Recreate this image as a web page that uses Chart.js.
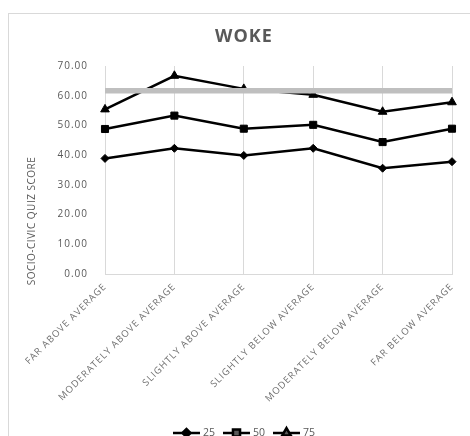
<!DOCTYPE html>
<html>
<head>
<meta charset="utf-8">
<script src="https://cdn.jsdelivr.net/npm/chart.js@4.4.0/dist/chart.umd.min.js"></script>
<style>
  html, body { margin: 0; padding: 0; background: #fff; overflow: hidden; }
  #frame { position: absolute; left: 8px; top: 13px; width: 470px; height: 430px; border: 1px solid #d9d9d9; }
  #frame canvas { display: block; }
</style>
</head>
<body>
<div id="frame"><canvas id="wokeChart" width="470" height="430"></canvas></div>
<script>
const categories = [
  "FAR ABOVE AVERAGE",
  "MODERATELY ABOVE AVERAGE",
  "SLIGHTLY ABOVE AVERAGE",
  "SLIGHTLY BELOW AVERAGE",
  "MODERATELY BELOW AVERAGE",
  "FAR BELOW AVERAGE"
];
const seriesNames = ["25", "50", "75"];
const score25 = [38.9, 42.3, 39.9, 42.3, 35.6, 37.8];
const score50 = [48.8, 53.3, 48.9, 50.2, 44.4, 48.9];
const score75 = [55.4, 66.7, 62.3, 60.3, 54.6, 57.8];
const overallMean = [61.7, 61.7, 61.7, 61.7, 61.7, 61.7];
const yMin = 0, yMax = 70, yStep = 10;

const GRAY_TEXT = "#595959";
const GRID = "#d9d9d9";

function scoreLine(label, data, style, radius) {
  return {
    label: label,
    data: data,
    borderColor: "#000",
    backgroundColor: "#000",
    borderWidth: 2.5,
    pointStyle: style,
    pointRadius: radius,
    pointBorderWidth: 1,
    tension: 0,
    order: 1
  };
}

// spaced-out lettering like the office chart style
const spacing = {
  id: "spacing",
  beforeUpdate(chart) { chart.ctx.letterSpacing = "1px"; },
  beforeDraw(chart) { chart.ctx.letterSpacing = "1px"; }
};

// rotated y axis caption, sitting a bit low like the original
const yCaption = {
  id: "yCaption",
  afterDraw(chart) {
    const ctx = chart.ctx;
    ctx.save();
    ctx.letterSpacing = "0.5px";
    ctx.translate(23, 207);
    ctx.rotate(-Math.PI / 2);
    ctx.font = "10px 'Open Sans'";
    ctx.fillStyle = GRAY_TEXT;
    ctx.textAlign = "center";
    ctx.textBaseline = "middle";
    ctx.fillText("SOCIO-CIVIC QUIZ SCORE", 0, 0);
    ctx.restore();
  }
};

// legend entries: short line with the series marker, then the label
const lineLegend = {
  id: "lineLegend",
  afterDraw(chart) {
    const ctx = chart.ctx;
    const y = chart.height - 11;
    const segW = 27, gap = 3, itemGap = 8;
    ctx.save();
    ctx.letterSpacing = "0px";
    ctx.font = "10.5px 'Open Sans'";
    const items = chart.data.datasets.filter(d => seriesNames.includes(d.label));
    const widths = items.map(d => segW + gap + ctx.measureText(d.label).width);
    const total = widths.reduce((a, b) => a + b, 0) + itemGap * (items.length - 1);
    let x = 235 - total / 2;
    items.forEach((d, i) => {
      ctx.strokeStyle = d.borderColor;
      ctx.lineWidth = d.borderWidth;
      ctx.beginPath();
      ctx.moveTo(x, y);
      ctx.lineTo(x + segW, y);
      ctx.stroke();
      Chart.helpers.drawPoint(ctx, {
        pointStyle: d.pointStyle, radius: d.pointRadius, rotation: 0, borderWidth: 1
      }, x + segW / 2, y);
      ctx.fillStyle = GRAY_TEXT;
      ctx.textBaseline = "middle";
      ctx.fillText(d.label, x + segW + gap, y);
      x += widths[i] + itemGap;
    });
    ctx.restore();
  }
};

new Chart(document.getElementById("wokeChart"), {
  type: "line",
  data: {
    labels: categories,
    datasets: [
      {
        label: "mean",
        data: overallMean,
        borderColor: "#bfbfbf",
        borderWidth: 5.5,
        pointRadius: 0,
        order: 0
      },
      scoreLine(seriesNames[0], score25, "rectRot", 4),
      scoreLine(seriesNames[1], score50, "rect", 5),
      scoreLine(seriesNames[2], score75, "triangle", 5)
    ]
  },
  options: {
    responsive: false,
    animation: false,
    layout: { padding: { top: 12, left: 0, right: 0, bottom: 30 } },
    plugins: {
      legend: { display: false },
      tooltip: { enabled: false },
      title: {
        display: true,
        text: "WOKE",
        color: GRAY_TEXT,
        font: { family: "'Open Sans'", size: 18, weight: "bold" },
        padding: { top: 0, bottom: 18.4 }
      }
    },
    scales: {
      x: {
        grid: { display: true, color: GRID, drawTicks: false },
        border: { display: true, color: GRID },
        ticks: {
          color: "#6f6f6f",
          font: { family: "'Open Sans'", size: 9.5 },
          maxRotation: 45,
          minRotation: 45,
          autoSkip: false,
          padding: 7
        },
        afterFit(scale) {
          scale.height = 140;
          scale.paddingRight = 27;
        }
      },
      y: {
        min: yMin,
        max: yMax,
        grid: { display: false },
        border: { display: true, color: GRID },
        ticks: {
          stepSize: yStep,
          color: GRAY_TEXT,
          font: { family: "'Open Sans'", size: 10 },
          padding: 9,
          callback: v => v.toFixed(2)
        },
        afterFit(scale) { scale.width = 96; }
      }
    }
  },
  plugins: [spacing, yCaption, lineLegend]
});
</script>
</body>
</html>
